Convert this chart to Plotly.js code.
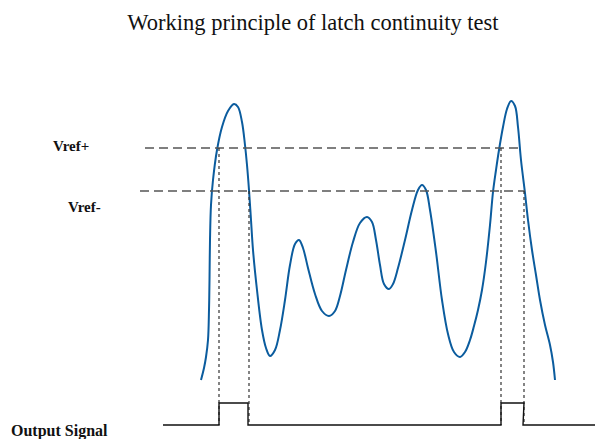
<!DOCTYPE html>
<html>
<head>
<meta charset="utf-8">
<script src="https://cdn.plot.ly/plotly-3.0.1.min.js"></script>
<style>html,body{margin:0;padding:0;background:#fff;}#chart{width:595px;height:439px;}</style>
</head>
<body>
<div id="chart"></div>
<script>
// Input waveform (in picture units: x to the right, y downward)
var waveX = [201, 204, 206, 208, 209, 209.5, 210, 211, 213, 217, 222, 228, 234, 238, 242, 245, 247, 249, 251, 253, 257, 262, 266, 270, 275, 280, 285, 290, 295, 299, 303, 308, 315, 322, 329, 335, 340, 346, 353, 360, 367, 372, 376, 380, 384, 389, 393, 398, 405, 412, 418, 422, 426, 430, 436, 442, 448, 454, 460, 465, 470, 474, 478, 482, 486, 490, 493, 496, 499, 503, 507, 511, 515, 518, 521, 525, 528, 532, 536, 540, 545, 550, 553, 555];
var waveY = [380, 368, 357, 340, 310, 280, 240, 205, 180, 150, 127, 111, 104, 107, 122, 145, 165, 190, 220, 250, 290, 330, 348, 356, 350, 330, 300, 265, 244, 240, 248, 268, 294, 311, 316, 311, 296, 270, 242, 223, 217, 222, 240, 265, 284, 289, 284, 268, 240, 210, 190, 185, 190, 210, 252, 300, 334, 352, 357, 352, 340, 326, 310, 290, 262, 225, 192, 170, 150, 127, 109, 101, 106, 127, 160, 193, 220, 250, 275, 300, 325, 345, 362, 380];

// Reference thresholds
var vrefNames = ["Vref+", "Vref-"];
var vrefLevel = [148, 191];
var vrefStart = [145, 140];
var vrefEnd = [519, 525];

// Latch crossing instants (dotted markers): x, top y
var markX = [219, 249, 501, 524];
var markTop = [148, 191, 148, 191];
var markBottom = 425;

// Output signal (square wave)
var outX = [163, 219, 219, 248, 248, 501, 501, 524, 523, 595];
var outY = [425, 425, 403, 403, 425, 425, 403, 403, 425, 425];

var traces = [];
traces.push({x: waveX, y: waveY, type: 'scatter', mode: 'lines',
  line: {color: '#0b5c9e', width: 2, shape: 'spline', smoothing: 1}, hoverinfo: 'skip'});
for (var i = 0; i < vrefLevel.length; i++) {
  traces.push({x: [vrefStart[i], vrefEnd[i]], y: [vrefLevel[i], vrefLevel[i]], type: 'scatter', mode: 'lines',
    line: {color: '#555555', width: 1.3, dash: '9px,5px'}, hoverinfo: 'skip'});
}
var mx = [], my = [];
for (var j = 0; j < markX.length; j++) {
  mx.push(markX[j], markX[j], null);
  my.push(markTop[j], markBottom, null);
}
traces.push({x: mx, y: my, type: 'scatter', mode: 'lines', connectgaps: false,
  line: {color: '#333333', width: 1.2, dash: 'dot'}, hoverinfo: 'skip'});
traces.push({x: outX, y: outY, type: 'scatter', mode: 'lines',
  line: {color: '#111111', width: 1.4}, hoverinfo: 'skip'});

var serif = '"Liberation Serif", "Times New Roman", serif';
var layout = {
  width: 595, height: 439,
  margin: {l: 0, r: 0, t: 0, b: 0},
  paper_bgcolor: '#ffffff', plot_bgcolor: '#ffffff',
  showlegend: false,
  title: {text: 'Working principle of latch continuity test', x: 0.526, xanchor: 'center', y: 0.95, yanchor: 'middle',
    font: {family: serif, size: 22.5, color: '#111111'}},
  xaxis: {range: [0, 595], visible: false, fixedrange: true},
  yaxis: {range: [439, 0], visible: false, fixedrange: true},
  annotations: [
    {text: '<b>' + vrefNames[0] + '</b>', x: 51, y: 146, xref: 'x', yref: 'y', xanchor: 'left', yanchor: 'middle', showarrow: false,
      font: {family: serif, size: 15, color: '#111111'}},
    {text: '<b>' + vrefNames[1] + '</b>', x: 66, y: 207, xref: 'x', yref: 'y', xanchor: 'left', yanchor: 'middle', showarrow: false,
      font: {family: serif, size: 15, color: '#111111'}},
    {text: '<b>Output Signal</b>', x: 9, y: 431, xref: 'x', yref: 'y', xanchor: 'left', yanchor: 'middle', showarrow: false,
      font: {family: serif, size: 16, color: '#111111'}}
  ]
};
Plotly.newPlot('chart', traces, layout, {displayModeBar: false, staticPlot: true});
</script>
</body>
</html>
